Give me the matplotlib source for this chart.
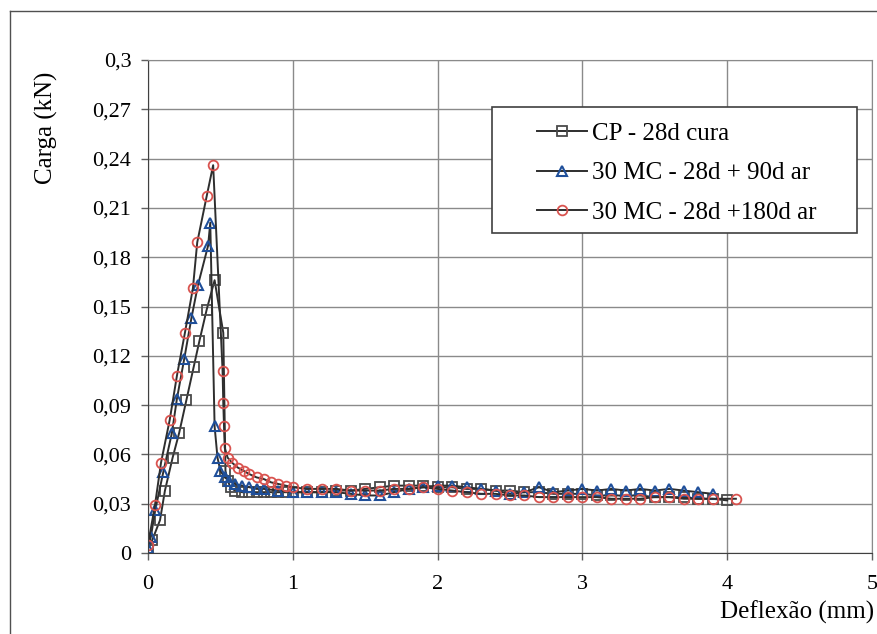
"""Carga x deflexao - CP vs 30 MC."""

import matplotlib.pyplot as plt
from matplotlib.lines import Line2D
from matplotlib.patches import Rectangle

# CP - 28d cura (quadrados)
cp_x = [0.0, 0.03, 0.083, 0.117, 0.17, 0.215, 0.265, 0.315, 0.355, 0.405, 0.46,
        0.52, 0.535, 0.55, 0.57, 0.60, 0.65, 0.70, 0.75, 0.80, 0.85, 0.90, 0.95,
        1.0, 1.1, 1.2, 1.3, 1.4, 1.5, 1.6, 1.7, 1.8, 1.9,
        2.0, 2.1, 2.2, 2.3, 2.4, 2.5, 2.6, 2.7, 2.8, 2.9,
        3.0, 3.1, 3.2, 3.3, 3.4, 3.5, 3.6, 3.7, 3.8, 3.9, 4.0]
cp_y = [0.003, 0.008, 0.020, 0.038, 0.058, 0.073, 0.093, 0.113, 0.129, 0.148, 0.166,
        0.134, 0.050, 0.044, 0.040, 0.038, 0.037, 0.037, 0.037, 0.037, 0.037, 0.037, 0.037,
        0.037, 0.037, 0.037, 0.038, 0.038, 0.039, 0.040, 0.041, 0.041, 0.041,
        0.040, 0.040, 0.039, 0.039, 0.038, 0.038, 0.037, 0.037, 0.036, 0.036,
        0.036, 0.035, 0.035, 0.035, 0.035, 0.034, 0.034, 0.034, 0.033, 0.033, 0.032]

# 30 MC - 28d + 90d ar (triangulos)
mc90_x = [0.0, 0.02, 0.05, 0.105, 0.165, 0.20, 0.25, 0.30, 0.345, 0.415, 0.43,
          0.46, 0.48, 0.50, 0.53, 0.56, 0.60, 0.65, 0.70, 0.75, 0.80, 0.90,
          1.0, 1.1, 1.2, 1.3, 1.4, 1.5, 1.6, 1.7, 1.8, 1.9,
          2.0, 2.1, 2.2, 2.3, 2.4, 2.5, 2.6, 2.7, 2.8, 2.9,
          3.0, 3.1, 3.2, 3.3, 3.4, 3.5, 3.6, 3.7, 3.8, 3.9]
mc90_y = [0.003, 0.010, 0.026, 0.049, 0.073, 0.094, 0.118, 0.143, 0.163, 0.187, 0.201,
          0.077, 0.058, 0.050, 0.046, 0.044, 0.042, 0.041, 0.040, 0.039, 0.039, 0.038,
          0.037, 0.037, 0.037, 0.037, 0.036, 0.035, 0.035, 0.037, 0.039, 0.040,
          0.041, 0.041, 0.040, 0.039, 0.038, 0.036, 0.037, 0.040, 0.037, 0.038,
          0.039, 0.038, 0.039, 0.038, 0.039, 0.038, 0.039, 0.038, 0.037, 0.036]

# 30 MC - 28d +180d ar (circulos)
mc180_x = [0.0, 0.048, 0.09, 0.15, 0.20, 0.255, 0.31, 0.34, 0.405, 0.45,
           0.515, 0.52, 0.525, 0.53, 0.55, 0.58, 0.62, 0.66, 0.70, 0.75,
           0.80, 0.85, 0.90, 0.95,
           1.0, 1.1, 1.2, 1.3, 1.4, 1.5, 1.6, 1.7, 1.8, 1.9,
           2.0, 2.1, 2.2, 2.3, 2.4, 2.5, 2.6, 2.7, 2.8, 2.9,
           3.0, 3.1, 3.2, 3.3, 3.4, 3.5, 3.6, 3.7, 3.8, 3.9, 4.06]
mc180_y = [0.005, 0.029, 0.055, 0.081, 0.108, 0.134, 0.161, 0.189, 0.217, 0.236,
           0.111, 0.091, 0.077, 0.064, 0.058, 0.055, 0.052, 0.050, 0.048, 0.046,
           0.045, 0.043, 0.042, 0.041,
           0.040, 0.039, 0.039, 0.039, 0.038, 0.038, 0.038, 0.039, 0.039, 0.040,
           0.039, 0.038, 0.037, 0.036, 0.036, 0.035, 0.035, 0.034, 0.034, 0.034,
           0.034, 0.034, 0.033, 0.033, 0.033, 0.034, 0.034, 0.033, 0.033, 0.033, 0.033]

x_ticks = [0, 1, 2, 3, 4, 5]
y_ticks = [0, 0.03, 0.06, 0.09, 0.12, 0.15, 0.18, 0.21, 0.24, 0.27, 0.30]
y_tick_labels = ["0", "0,03", "0,06", "0,09", "0,12", "0,15", "0,18",
                 "0,21", "0,24", "0,27", "0,3"]

plt.rcParams["font.family"] = ["Liberation Serif", "DejaVu Serif"]

fig = plt.figure(figsize=(8.77, 6.34), dpi=100)
ax = fig.add_axes([148 / 877, 81 / 634, 724 / 877, 493 / 634])

line_color = "#2e2e2e"
ax.plot(cp_x, cp_y, color=line_color, lw=1.4, marker="s", ms=7,
        mfc="none", mec="#4a4a4a", mew=1.3, label="CP - 28d cura")
ax.plot(mc90_x, mc90_y, color=line_color, lw=1.4, marker="^", ms=7,
        mfc="none", mec="#1f4f9a", mew=1.5, label="30 MC - 28d + 90d ar")
ax.plot(mc180_x, mc180_y, color=line_color, lw=1.4, marker="o", ms=7,
        mfc="none", mec="#d9534f", mew=1.3, label="30 MC - 28d +180d ar")

ax.set_xlim(0, 5)
ax.set_ylim(0, 0.3)
ax.set_xticks(x_ticks)
ax.set_yticks(y_ticks)
ax.set_yticklabels(y_tick_labels)
ax.grid(True, color="#8a8a8a", lw=1.0)
ax.set_axisbelow(True)
for side in ["top", "right"]:
    ax.spines[side].set_color("#8a8a8a")
for side in ["left", "bottom"]:
    ax.spines[side].set_color("#404040")
ax.tick_params(direction="out", length=5, width=1, color="#606060",
               labelsize=16)
ax.tick_params(axis="x", pad=11)
ax.tick_params(axis="y", pad=7)

# caixa da legenda (moldura desenhada a parte, com folga larga como no original)
ax.add_patch(Rectangle((0.475, 0.649), 0.504, 0.256, transform=ax.transAxes,
                       facecolor="white", edgecolor="#404040", lw=1.2,
                       zorder=4))
leg = ax.legend(loc="upper left", bbox_to_anchor=(0.537, 0.873), fontsize=18,
                frameon=False, borderpad=0, borderaxespad=0,
                handlelength=2.0, handletextpad=0.2, labelspacing=0.67)
leg.set_zorder(5)

fig.text(46 / 877, 1 - 128 / 634, "Carga (kN)", rotation=90,
         ha="center", va="center", fontsize=18)
fig.text(797 / 877, 1 - 612 / 634, "Deflexão (mm)", ha="center",
         va="center", fontsize=18)

# moldura externa
fig.add_artist(Line2D([10 / 877, 10 / 877], [0, 1 - 11 / 634],
                      transform=fig.transFigure, color="#505050", lw=1))
fig.add_artist(Line2D([10 / 877, 1], [1 - 11 / 634, 1 - 11 / 634],
                      transform=fig.transFigure, color="#505050", lw=1))

fig.savefig("out.png", dpi=100)
